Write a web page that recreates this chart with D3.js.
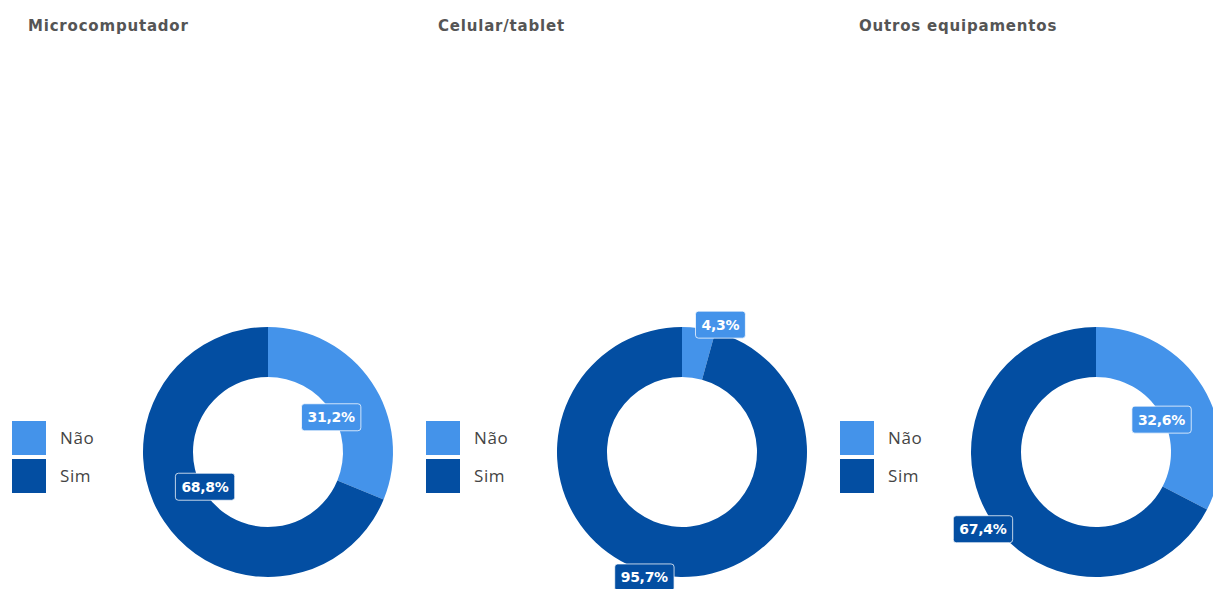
<!DOCTYPE html>
<html><head><meta charset="utf-8">
<script src="https://cdn.jsdelivr.net/npm/d3@7"></script>
<style>
html,body{margin:0;padding:0;background:#fff;overflow:hidden}
</style></head>
<body><svg id="chart" width="1213" height="589"></svg>
<script>
// ---- data ----
const titles = ["Microcomputador", "Celular/tablet", "Outros equipamentos"];
const categories = ["Não", "Sim"];
const naoValues = [31.2, 4.3, 32.6];
const simValues = [68.8, 95.7, 67.4];

// ---- layout / style ----
const colors = ["#4493EA", "#034EA2"];
const panelStep = 414;
const titleX = [28, 438, 859];
const centerX0 = 268, centerY = 452;
const outerR = 125, innerR = 75;
// label placement per panel & slice: [radius, angle shift in degrees]
const labelPlace = [
  [[72, 5], [72, 5]],
  [[133, 9], [131, 9]],
  [[73, 5], [137, -3]]
];

const svg = d3.select("#chart");
const color = d3.scaleOrdinal().domain(categories).range(colors);
const pie = d3.pie().sort(null).value(d => d.value);
const arc = d3.arc().innerRadius(innerR).outerRadius(outerR);
const fmt = v => d3.format(".1f")(v).replace(".", ",") + "%";

titles.forEach((t, i) => {
  const g = svg.append("g").attr("transform", `translate(${i * panelStep},0)`);
  const data = [
    {cat: categories[0], value: naoValues[i]},
    {cat: categories[1], value: simValues[i]}
  ];

  svg.append("text")
    .attr("x", titleX[i]).attr("y", 31)
    .attr("font-family", "'DejaVu Sans', sans-serif")
    .attr("font-weight", "bold").attr("font-size", 15)
    .attr("letter-spacing", 0.8)
    .attr("fill", "#555")
    .text(t);

  // legend
  const leg = g.append("g").attr("transform", "translate(12,421)");
  categories.forEach((c, j) => {
    leg.append("rect").attr("x", 0).attr("y", j * 38)
      .attr("width", 34).attr("height", 34).attr("fill", color(c));
    leg.append("text").attr("x", 48).attr("y", j * 38 + 23)
      .attr("font-family", "'Open Sans', sans-serif").attr("font-size", 17)
      .attr("letter-spacing", 0.6)
      .attr("fill", "#444").text(c);
  });

  const cg = g.append("g").attr("transform", `translate(${centerX0},${centerY})`);
  const arcs = pie(data);
  cg.selectAll("path").data(arcs).join("path")
    .attr("d", arc).attr("fill", d => color(d.data.cat));

  arcs.forEach((d, j) => {
    const [r, shift] = labelPlace[i][j];
    const a = (d.startAngle + d.endAngle) / 2 + shift * Math.PI / 180;
    const x = r * Math.sin(a), y = -r * Math.cos(a);
    const lg = cg.append("g").attr("transform", `translate(${x},${y})`);
    const txt = lg.append("text").attr("text-anchor", "middle").attr("dy", "0.36em")
      .attr("font-family", "'DejaVu Sans', sans-serif").attr("font-weight", "bold")
      .attr("font-size", 14).attr("letter-spacing", -0.3)
      .attr("fill", "#fff").text(fmt(d.data.value));
    const bb = txt.node().getBBox();
    lg.insert("rect", "text")
      .attr("x", bb.x - 6).attr("y", -13.5).attr("width", bb.width + 12).attr("height", 27)
      .attr("rx", 3).attr("fill", color(d.data.cat))
      .attr("stroke", "#fff").attr("stroke-opacity", 0.75).attr("stroke-width", 1);
  });
});
</script></body></html>
